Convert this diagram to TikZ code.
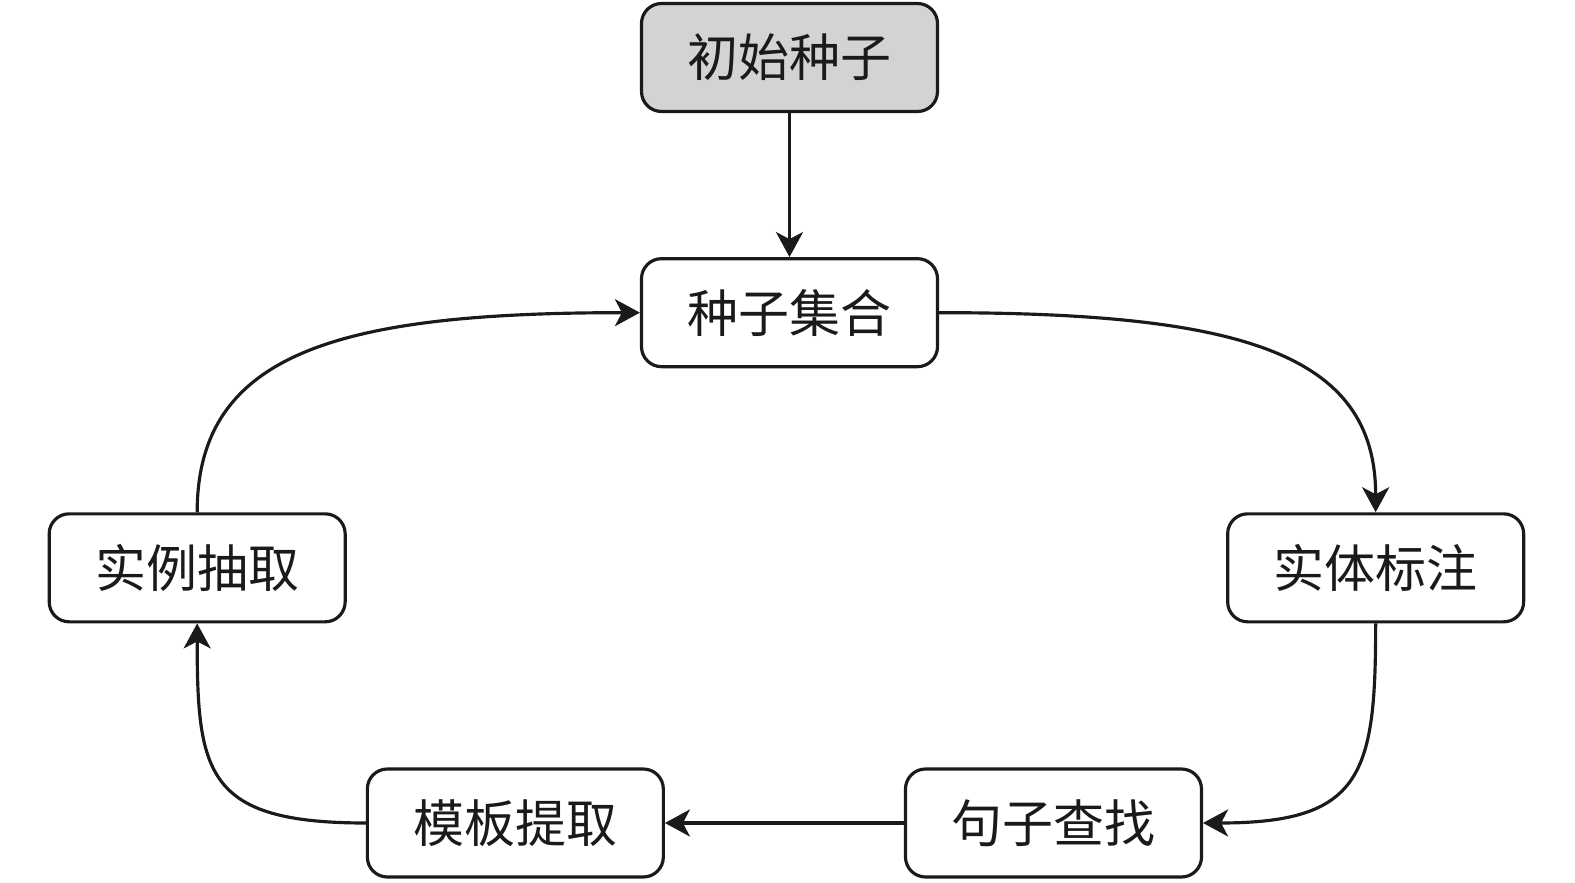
\documentclass[tikz,border=0pt]{standalone}
\usepackage{fontspec}
\setmainfont{Noto Sans CJK SC}
\usepackage{tikz}
\usetikzlibrary{positioning, arrows.meta}
\definecolor{seedgray}{RGB}{211,211,211}
\definecolor{inkgray}{RGB}{26,26,26}
\tikzset{startbox/.style={
        draw=inkgray,
        line width=0.9pt,
        rounded corners=0.2cm,
        minimum width=2.96cm,
        minimum height=1.08cm,
        inner sep=2pt,
        align=center,
        fill=seedgray
}}
\tikzset{stepbox/.style={
        draw=inkgray,
        line width=0.9pt,
        rounded corners=0.2cm,
        minimum width=2.96cm,
        minimum height=1.08cm,
        inner sep=2pt,
        align=center,
        fill=white
}}
\tikzset{flowedge/.style={draw=inkgray,line width=0.9pt,-{Stealth[length=0.25cm,width=0.27cm,inset=0.07cm]}}}

\begin{document}
\begin{tikzpicture}[node distance=1.44cm,every node/.style={font=\fontsize{14.5pt}{17pt}\selectfont, text=inkgray}]
\useasboundingbox (0,0) rectangle (15.75,8.82);
\node[startbox] (init) at (7.895,8.245) {初始种子};
\node[stepbox, below=of init] (seeds) {种子集合};
\node[stepbox, below right=1.44cm and 2.87cm of seeds] (tag) {实体标注};
\node[stepbox, below left=1.44cm and 0.23cm of tag] (sent) {句子查找};
\node[stepbox, left=2.39cm of sent] (tmpl) {模板提取};
\node[stepbox, above left=1.44cm and 0.19cm of tmpl] (inst) {实例抽取};

\draw[flowedge] (init) -- (seeds);
\draw[flowedge] (seeds.east) to[out=0, in=90, out distance=3cm, in distance=1.6cm] (tag.north);
\draw[flowedge] (tag.south) to[out=-90, in=0, out distance=1.5cm, in distance=1.6cm] (sent.east);
\draw[flowedge] (sent) -- (tmpl);
\draw[flowedge] (tmpl.west) to[out=180, in=-90, out distance=1.6cm, in distance=1.5cm] (inst.south);
\draw[flowedge] (inst.north) to[out=90, in=180, out distance=1.6cm, in distance=3cm] (seeds.west);
\end{tikzpicture}
\end{document}
